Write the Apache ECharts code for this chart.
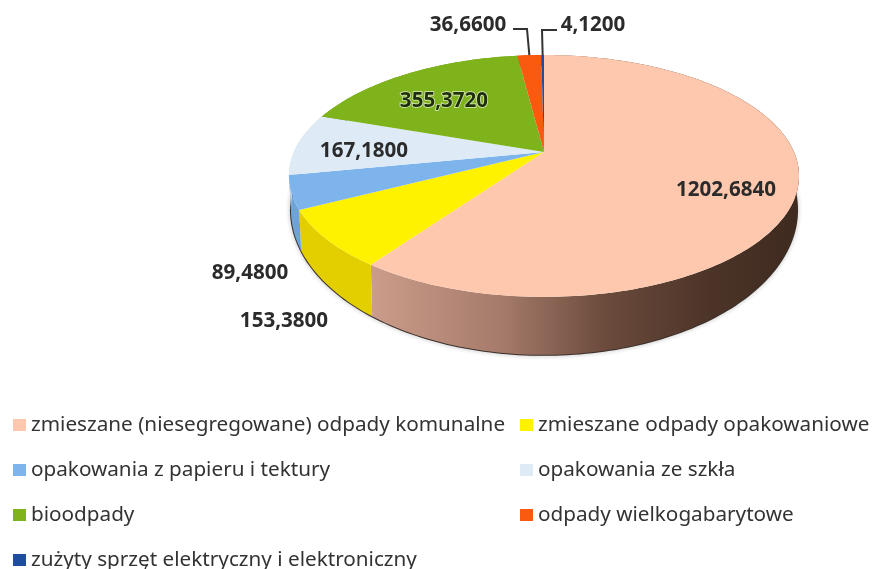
<!DOCTYPE html>
<html>
<head>
<meta charset="utf-8">
<style>
  html, body { margin: 0; padding: 0; background: #fff; }
  #chart { width: 875px; height: 569px; }
</style>
</head>
<body>
<div id="chart"></div>
<script src="https://cdn.jsdelivr.net/npm/echarts@6/dist/echarts.min.js"></script>
<script>
const categories = [
  'zmieszane (niesegregowane) odpady komunalne',
  'zmieszane odpady opakowaniowe',
  'opakowania z papieru i tektury',
  'opakowania ze szkła',
  'bioodpady',
  'odpady wielkogabarytowe',
  'zużyty sprzęt elektryczny i elektroniczny',
];
const values = [1202.684, 153.38, 89.48, 167.18, 355.372, 36.66, 4.12];
const topColors = ['#fdc8ad', '#fff200', '#7db4ec', '#deebf7', '#7fb31c', '#fa5a10', '#1f4e9e'];
const legendLeftColumn = [0, 2, 4, 6];
const legendRightColumn = [1, 3, 5];

// kolejnosc jak categories: srodek etykiety i poczatek linii odniesienia
const labelPlaces = [[726, 190], [284, 321], [250, 273], [364, 151], [444, 101], [468, 25], [593, 25]];
const leaders = { 5: [[513, 29], [527, 29]], 6: [[557, 30], [542, 30]] };

const total = values.reduce((a, b) => a + b, 0);

// rzut kola na elipse z perspektywa, wierzcholek wycinkow nie lezy w srodku elipsy
function project(angle) {
  const u = Math.sin(angle);
  const v = -Math.cos(angle);
  const d = 1 - 0.198 * v;
  return [544 + (250 * u) / d, 152 + (116.2 * v) / d];
}
function toBottom(p) {
  return [544 + ((p[0] - 544) * 253) / 255, 210 + ((p[1] - 176) * 145) / 121];
}
function rim(from, to) {
  const steps = Math.max(2, Math.ceil((to - from) / 0.02));
  const pts = [];
  for (let i = 0; i <= steps; i++) {
    pts.push(project(from + ((to - from) * i) / steps));
  }
  return pts;
}

const pinkSide = new echarts.graphic.LinearGradient(372, 0, 800, 0, [
  { offset: 0, color: '#cb9c8a' },
  { offset: 0.3, color: '#a67b6b' },
  { offset: 0.55, color: '#6a4a3b' },
  { offset: 0.8, color: '#4b3327' },
  { offset: 1, color: '#3f2a1f' },
], true);
const sideColors = [pinkSide, '#e3cf00', '#6ea3d6', '#c5d3df', '#6c9a14', '#d94c0c', '#1a4287'];

function renderSlice(index, api) {
  const value = api.value(0);
  const before = values.slice(0, index).reduce((a, b) => a + b, 0);
  const start = (before / total) * Math.PI * 2;
  const end = start + (value / total) * Math.PI * 2;
  const arc = rim(start, end);
  const lower = arc.map(toBottom);
  const children = [
    {
      type: 'polygon',
      z2: 1,
      shape: { points: arc.concat(lower.slice().reverse()) },
      style: { fill: sideColors[index] },
    },
    {
      type: 'polyline',
      z2: 0,
      shape: { points: lower },
      style: { fill: 'none', stroke: '#3a2f2a', lineWidth: 2, shadowBlur: 4, shadowColor: 'rgba(0,0,0,0.35)' },
    },
    {
      type: 'polygon',
      z2: 2,
      shape: { points: [[544, 152]].concat(arc) },
      style: { fill: topColors[index] },
    },
  ];
  if (leaders[index]) {
    children.push({
      type: 'polyline',
      z2: 3,
      shape: { points: leaders[index].concat([project((start + end) / 2)]) },
      style: { fill: 'none', stroke: '#333', lineWidth: 2 },
    });
  }
  children.push({
    type: 'text',
    z2: 4,
    style: {
      text: value.toFixed(4).replace('.', ','),
      x: labelPlaces[index][0],
      y: labelPlaces[index][1],
      align: 'center',
      verticalAlign: 'middle',
      font: 'bold 20.6px "Open Sans"',
      fill: index === 4 ? '#1d3008' : '#2b2b2b',
      stroke: index === 4 ? '#dfeac4' : null,
      lineWidth: index === 4 ? 1.5 : 0,
    },
  });
  return { type: 'group', children: children };
}

function legendData(column) {
  return column.map((i) => ({ name: categories[i], itemStyle: { color: topColors[i] } }));
}
const legendBase = {
  orient: 'vertical',
  selectedMode: false,
  itemWidth: 13,
  itemHeight: 12,
  itemGap: 21,
  height: 300,
  icon: 'rect',
  textStyle: { fontFamily: 'Noto Sans', fontSize: 20.7, color: '#333', lineHeight: 24 },
};

const chart = echarts.init(document.getElementById('chart'));
chart.setOption({
  animation: false,
  backgroundColor: '#fff',
  legend: [
    Object.assign({}, legendBase, { left: 8, top: 408, data: legendData(legendLeftColumn) }),
    Object.assign({}, legendBase, { left: 515, top: 408, data: legendData(legendRightColumn) }),
  ],
  series: categories.map((name, i) => ({
    type: 'custom',
    name: name,
    coordinateSystem: 'none',
    silent: true,
    itemStyle: { color: topColors[i] },
    renderItem: (params, api) => renderSlice(i, api),
    data: [[values[i]]],
  })),
});
</script>
</body>
</html>
